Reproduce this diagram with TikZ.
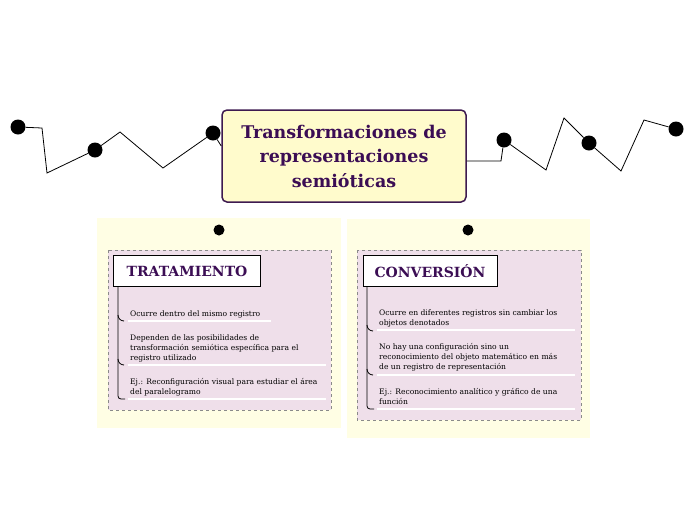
\documentclass[tikz,border=0pt]{standalone}
\usepackage{fontspec}
\setmainfont{DejaVu Serif}
\usetikzlibrary{positioning}

\definecolor{plum}{RGB}{59,13,84}
\definecolor{mainFill}{RGB}{255,251,204}
\definecolor{mainLine}{RGB}{62,26,80}
\definecolor{panelFill}{RGB}{255,254,228}
\definecolor{cardFill}{RGB}{239,223,234}
\definecolor{cardLine}{RGB}{138,138,138}

\tikzset{
  dot/.style={circle,fill=black,inner sep=0pt,minimum size=15pt},
  pin/.style={circle,fill=black,inner sep=0pt,minimum size=11pt},
  link/.style={draw=black,line width=0.8pt},
  hdr/.style={draw=black,fill=white,line width=0.8pt,minimum height=31pt,
    font=\bfseries\fontsize{14}{16}\selectfont,text=plum},
  item/.style={anchor=base west,align=left,inner sep=0pt,
    font=\fontsize{7.6}{10}\selectfont},
  rule/.style={draw=white,line width=1.5pt},
  brace/.style={draw=black,line width=0.8pt}
}

\begin{document}
\begin{tikzpicture}[x=1pt,y=-1pt]
      \useasboundingbox (0,0) rectangle (696,520);

      % title and the two chains of dots
      \node[draw=mainLine,fill=mainFill,line width=1.5pt,rounded corners=5pt,
        minimum width=244pt,minimum height=92pt,align=center,text=plum,
        font=\bfseries\fontsize{17.5}{24.5}\selectfont] (title) at (344,156)
        {Transformaciones de\\representaciones\\semióticas};

      \node[dot] (d1) at (18,127) {};
      \node[dot] (d2) at (95,150) {};
      \node[dot] (d3) at (213,133) {};
      \node[dot] (d4) at (504,140) {};
      \node[dot] (d5) at (589,143) {};
      \node[dot] (d6) at (676,129) {};
      \coordinate (lEnd) at (title.west |- 0,146);
      \coordinate (rEnd) at (title.east |- 0,161);

      \draw[link] (d1) -- (42,128) -- (47,173) -- (d2) -- (120,132) -- (163,168) -- (d3) -- (lEnd);
      \draw[link] (rEnd) -- (501,161) -- (d4) -- (546,170) -- (564,118) -- (d5) -- (621,171) -- (644,120) -- (d6);

      % left panel
      \fill[panelFill] (97,218) rectangle (341,428);
      \node[pin] (pinL) at (219,230) {};
      \draw[cardLine,dashed,fill=cardFill] (108,250) rectangle (331,410);
      \node[hdr,minimum width=147pt] (trat) at (187,271) {TRATAMIENTO};

      \draw[brace,rounded corners=3pt] (trat.south -| 118,0) -- (118,399) -- (125,399);
      \draw[brace] (118,315) to[out=-90,in=180] (124,321);
      \draw[brace] (118,359) to[out=-90,in=180] (124,365);
      \draw[rule] (128,321) -- (271,321);
      \draw[rule] (128,365) -- (326,365);
      \draw[rule] (128,399) -- (326,399);

      \node[item] (t1) at (130,316) {Ocurre dentro del mismo registro};
      \node[item] (t2) at (130,360) {Dependen de las posibilidades de\\transformación semiótica específica para el\\registro utilizado};
      \node[item] (t3) at (130,394) {Ej.: Reconfiguración visual para estudiar el área\\del paralelogramo};

      % right panel
      \fill[panelFill] (347,219) rectangle (590,438);
      \node[pin] (pinR) at (468,230) {};
      \draw[cardLine,dashed,fill=cardFill] (357,250) rectangle (581,420);
      \node[hdr,minimum width=134pt] (conv) at (430,271) {CONVERSIÓN};

      \draw[brace,rounded corners=3pt] (conv.south -| 367,0) -- (367,409) -- (374,409);
      \draw[brace] (367,325) to[out=-90,in=180] (373,331);
      \draw[brace] (367,369) to[out=-90,in=180] (373,375);
      \draw[rule] (377,330) -- (575,330);
      \draw[rule] (377,375) -- (575,375);
      \draw[rule] (377,409) -- (575,409);

      \node[item] (c1) at (379,325) {Ocurre en diferentes registros sin cambiar los\\objetos denotados};
      \node[item] (c2) at (379,369) {No hay una configuración sino un\\reconocimiento del objeto matemático en más\\de un registro de representación};
      \node[item] (c3) at (379,404) {Ej.: Reconocimiento analítico y gráfico de una\\función};
\end{tikzpicture}
\end{document}
